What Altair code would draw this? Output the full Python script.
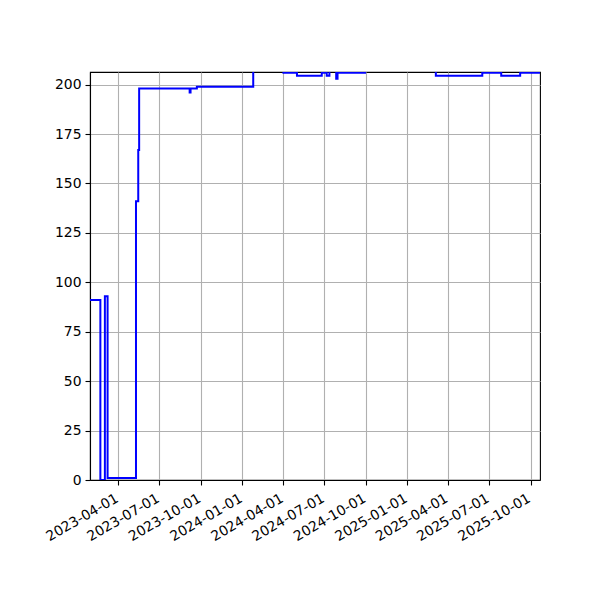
import altair as alt
import pandas as pd

# change points of the step series (value holds until the next date)
dates = [
    "2023-01-28", "2023-02-20", "2023-03-02", "2023-03-08", "2023-05-10",
    "2023-05-15", "2023-05-17", "2023-09-06", "2023-09-08", "2023-09-22",
    "2024-01-25", "2024-04-01", "2024-05-01", "2024-06-25", "2024-07-06",
    "2024-07-12", "2024-07-27", "2024-07-30", "2024-09-29", "2025-03-05",
    "2025-06-16", "2025-07-28", "2025-09-08", "2025-10-22",
]
values = [
    91, 0, 93, 1, 141,
    167, 198, 196, 198, 199,
    208, 206, 204.5, 206, 204.5,
    208, 203, 206, 208, 204.5,
    206, 204.5, 206, 206,
]

x_ticks = [(2023, 4), (2023, 7), (2023, 10), (2024, 1), (2024, 4), (2024, 7),
           (2024, 10), (2025, 1), (2025, 4), (2025, 7), (2025, 10)]
y_ticks = [0, 25, 50, 75, 100, 125, 150, 175, 200]

df = pd.DataFrame({"date": [d + "T00:00:00" for d in dates], "value": values})

font = "DejaVu Sans"

chart = alt.Chart(df).mark_line(
    interpolate="step-after", color="#0000ff", strokeWidth=2, clip=True
).encode(
    x=alt.X("date:T",
            scale=alt.Scale(domain=[dates[0] + "T00:00:00", dates[-1] + "T00:00:00"], nice=False),
            axis=alt.Axis(values=[alt.DateTime(year=y, month=m, date=1) for y, m in x_ticks],
                          format="%Y-%m-%d", labelAngle=330, labelAlign="right",
                          labelBaseline="top", labelPadding=6, labelOffset=-5,
                          labelFlush=False, labelOverlap=False, title=None)),
    y=alt.Y("value:Q",
            scale=alt.Scale(domain=[0, 206.4], nice=False, zero=True),
            axis=alt.Axis(values=y_ticks, labelPadding=4, title=None)),
).properties(
    width=450,
    height=408,
    autosize=alt.AutoSizeParams(type="none"),
    padding={"left": 82, "top": 64, "right": 52, "bottom": 112},
).configure_axis(
    grid=True,
    gridColor="#b0b0b0",
    gridWidth=1.1,
    domainColor="black",
    domainWidth=1.1,
    tickColor="black",
    tickWidth=1.1,
    tickSize=5,
    labelColor="black",
    labelFont=font,
    labelFontSize=13.9,
).configure_view(
    stroke="black",
    strokeWidth=1.1,
)

chart.save("out.html", embed_options={"renderer": "svg", "actions": False})
